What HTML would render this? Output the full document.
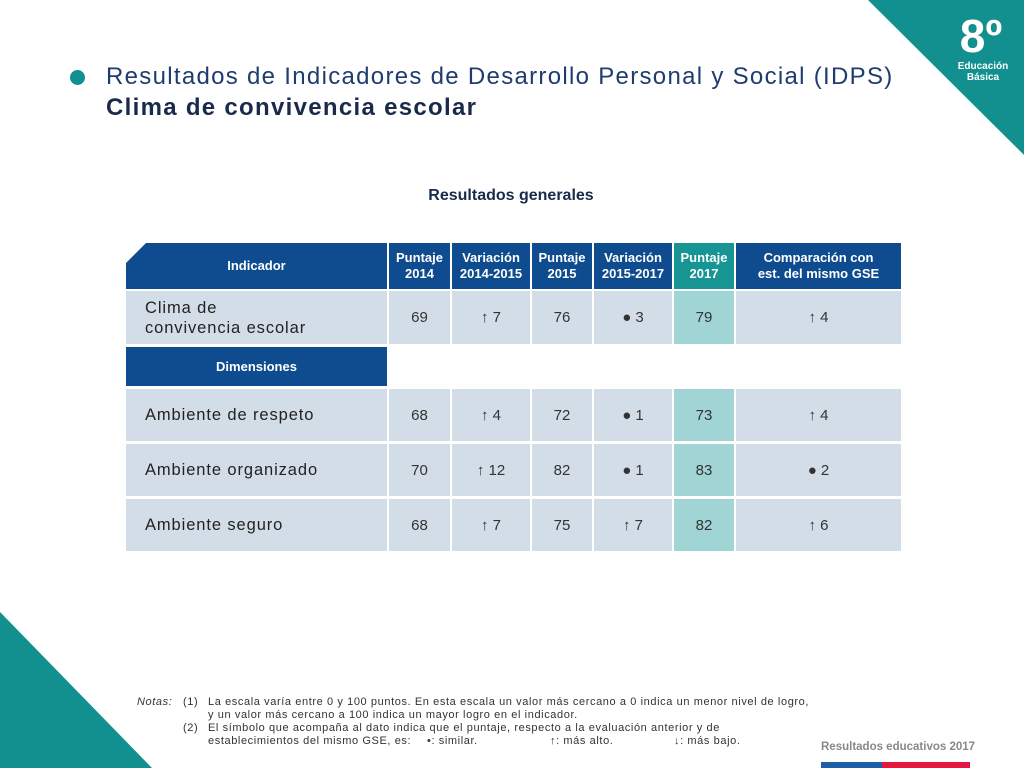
<!DOCTYPE html>
<html><head><meta charset="utf-8"><style>
body{margin:0;width:1024px;height:768px;position:relative;overflow:hidden;background:#fff;font-family:"Liberation Sans","DejaVu Sans",sans-serif}
.a{position:absolute}
.h{position:absolute;background:#0e4c8f;color:#fff;font-weight:bold;font-size:13px;display:flex;align-items:center;justify-content:center;text-align:center;line-height:16px}
.c{position:absolute;background:#d3dde8;color:#333;font-size:15px;display:flex;align-items:center;justify-content:center}
.t{background:#a0d4d5}
.l{justify-content:flex-start;padding-left:19px;box-sizing:border-box;font-size:16.5px;color:#222;line-height:20px;letter-spacing:0.9px}
.n{position:absolute;font-size:11px;color:#333;line-height:13px;white-space:nowrap;letter-spacing:0.6px}
</style></head><body>
<svg class="a" style="left:0;top:0" width="1024" height="768">
<polygon points="868,0 1024,0 1024,155" fill="#11908f"/>
<polygon points="0,612 0,768 152,768" fill="#11908f"/>
<rect x="821" y="762" width="61" height="6" fill="#1f5fa8"/><rect x="882" y="762" width="88" height="6" fill="#e5163f"/>
</svg>
<div class="a" style="left:950px;top:12px;width:62px;text-align:center;color:#fff;font-weight:bold;font-size:46px;line-height:48px">8º</div>
<div class="a" style="left:950px;top:61px;width:66px;text-align:center;color:#fff;font-weight:bold;font-size:10px;line-height:11px">Educación<br>Básica</div>
<div class="a" style="left:70px;top:70px;width:15px;height:15px;border-radius:50%;background:#11908f"></div>
<div class="a" style="left:106px;top:61px;font-size:24px;color:#1f3c6e;line-height:31px;white-space:nowrap;letter-spacing:1.3px">Resultados de Indicadores de Desarrollo Personal y Social (IDPS)<br><b style="color:#1a2a4a">Clima de convivencia escolar</b></div>
<div class="a" style="left:380px;top:187px;width:262px;text-align:center;font-weight:bold;font-size:16px;color:#1a2a4a">Resultados generales</div>

<div class="h" style="left:126px;top:243px;width:261px;height:46px;clip-path:polygon(20px 0,100% 0,100% 100%,0 100%,0 20px)">Indicador</div>
<div class="h" style="left:389px;top:243px;width:61px;height:46px">Puntaje<br>2014</div>
<div class="h" style="left:452px;top:243px;width:78px;height:46px">Variación<br>2014-2015</div>
<div class="h" style="left:532px;top:243px;width:60px;height:46px">Puntaje<br>2015</div>
<div class="h" style="left:594px;top:243px;width:78px;height:46px">Variación<br>2015-2017</div>
<div class="h" style="left:674px;top:243px;width:60px;height:46px;background:#179494">Puntaje<br>2017</div>
<div class="h" style="left:736px;top:243px;width:165px;height:46px">Comparación con<br>est. del mismo GSE</div>

<div class="c l" style="left:126px;top:291px;width:261px;height:53px">Clima de<br>convivencia escolar</div>
<div class="c" style="left:389px;top:291px;width:61px;height:53px">69</div>
<div class="c" style="left:452px;top:291px;width:78px;height:53px">↑ 7</div>
<div class="c" style="left:532px;top:291px;width:60px;height:53px">76</div>
<div class="c" style="left:594px;top:291px;width:78px;height:53px">● 3</div>
<div class="c t" style="left:674px;top:291px;width:60px;height:53px">79</div>
<div class="c" style="left:736px;top:291px;width:165px;height:53px">↑ 4</div>

<div class="h" style="left:126px;top:347px;width:261px;height:39px">Dimensiones</div>

<div class="c l" style="left:126px;top:389px;width:261px;height:52px">Ambiente de respeto</div>
<div class="c" style="left:389px;top:389px;width:61px;height:52px">68</div>
<div class="c" style="left:452px;top:389px;width:78px;height:52px">↑ 4</div>
<div class="c" style="left:532px;top:389px;width:60px;height:52px">72</div>
<div class="c" style="left:594px;top:389px;width:78px;height:52px">● 1</div>
<div class="c t" style="left:674px;top:389px;width:60px;height:52px">73</div>
<div class="c" style="left:736px;top:389px;width:165px;height:52px">↑ 4</div>

<div class="c l" style="left:126px;top:444px;width:261px;height:52px">Ambiente organizado</div>
<div class="c" style="left:389px;top:444px;width:61px;height:52px">70</div>
<div class="c" style="left:452px;top:444px;width:78px;height:52px">↑ 12</div>
<div class="c" style="left:532px;top:444px;width:60px;height:52px">82</div>
<div class="c" style="left:594px;top:444px;width:78px;height:52px">● 1</div>
<div class="c t" style="left:674px;top:444px;width:60px;height:52px">83</div>
<div class="c" style="left:736px;top:444px;width:165px;height:52px">● 2</div>

<div class="c l" style="left:126px;top:499px;width:261px;height:52px">Ambiente seguro</div>
<div class="c" style="left:389px;top:499px;width:61px;height:52px">68</div>
<div class="c" style="left:452px;top:499px;width:78px;height:52px">↑ 7</div>
<div class="c" style="left:532px;top:499px;width:60px;height:52px">75</div>
<div class="c" style="left:594px;top:499px;width:78px;height:52px">↑ 7</div>
<div class="c t" style="left:674px;top:499px;width:60px;height:52px">82</div>
<div class="c" style="left:736px;top:499px;width:165px;height:52px">↑ 6</div>

<div class="n" style="left:137px;top:696px;font-style:italic">Notas:</div>
<div class="n" style="left:183px;top:696px">(1)</div>
<div class="n" style="left:208px;top:696px">La escala varía entre 0 y 100 puntos. En esta escala un valor más cercano a 0 indica un menor nivel de logro,<br>y un valor más cercano a 100 indica un mayor logro en el indicador.</div>
<div class="n" style="left:183px;top:722px">(2)</div>
<div class="n" style="left:208px;top:722px">El símbolo que acompaña al dato indica que el puntaje, respecto a la evaluación anterior y de<br>establecimientos del mismo GSE, es:</div>
<div class="n" style="left:427px;top:735px">•: similar.</div>
<div class="n" style="left:550px;top:735px">↑: más alto.</div>
<div class="n" style="left:674px;top:735px">↓: más bajo.</div>
<div class="a" style="left:821px;top:741px;font-size:11.5px;font-weight:bold;color:#888;white-space:nowrap">Resultados educativos 2017</div>
</body></html>
